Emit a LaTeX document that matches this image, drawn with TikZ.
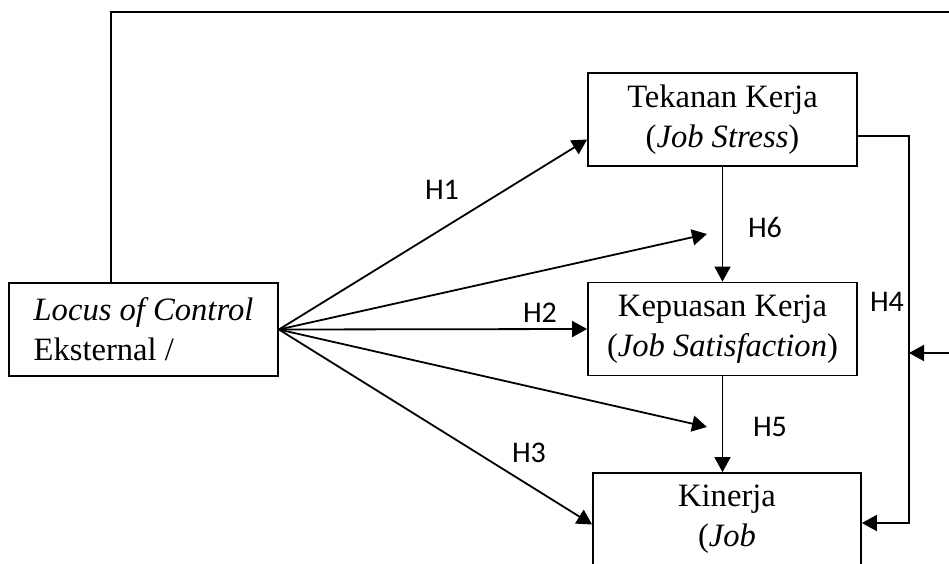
\documentclass[tikz,border=0pt]{standalone}
\usepackage{fontspec}
\setmainfont{Liberation Serif}
\newfontfamily\labelfont{Carlito}
\usetikzlibrary{arrows.meta}
\begin{document}
\begin{tikzpicture}[x=0.5pt,y=-0.5pt,>={Triangle[length=7.5pt,width=8pt]},line width=0.9pt,
	varbox/.style={draw,minimum width=134.5pt,minimum height=46.5pt,align=center,font=\fontsize{16.3}{20}\selectfont},
	hlabel/.style={font=\labelfont\fontsize{15}{17}\selectfont}]
	\useasboundingbox (0,0) rectangle (949,563);
	\clip (0,0) rectangle (949,563);
	% variabel
	\node[varbox,align=left] (locus) at (143.5,329.5) {\textit{Locus of Control}\\Eksternal /};
	\node[varbox] (stress) at (722.5,119.5) {Tekanan Kerja\\(\textit{Job Stress})};
	\node[varbox] (satis) at (722.5,329) {Kepuasan Kerja\\(\textit{Job Satisfaction})};
	\node[varbox,minimum width=134pt] (perf) at (727,519.5) {Kinerja\\(\textit{Job}};
	% titik bantu
	\coordinate (medA) at (707,234);
	\coordinate (medB) at (707,427);
	\coordinate (h4top) at (909,136);
	\coordinate (h4mid) at (909,353);
	\coordinate (h4bot) at (909,523);
	\coordinate (loopA) at (111,12);
	\coordinate (loopB) at (995,12);
	\coordinate (loopC) at (995,353);
	% panah dari locus
	\draw[->] (locus.east) -- ([yshift=-10pt]stress.west);
	\draw[->] (locus.east) -- (medA);
	\draw[->] (locus.east) -- (satis.west);
	\draw[->] (locus.east) -- (medB);
	\draw[->] (locus.east) -- ([yshift=-2.5pt]perf.west);
	\draw[->] (stress.south) -- (satis.north);
	\draw[->] (satis.south) -- (satis.south |- perf.north);
	\draw[->] (stress.east |- h4top) -- (h4top) -- (h4bot) -- (perf.east |- h4bot);
	\draw[->] (locus.north -| loopA) -- (loopA) -- (loopB) -- (loopC) -- (h4mid);
	% label hipotesis
	\node[hlabel] (h1) at (442,190) {H1};
	\node[hlabel] (h2) at (540,313) {H2};
	\node[hlabel] (h3) at (529,453) {H3};
	\node[hlabel] (h4) at (887,302) {H4};
	\node[hlabel] (h5) at (770,427) {H5};
	\node[hlabel] (h6) at (765,227) {H6};
\end{tikzpicture}
\end{document}
